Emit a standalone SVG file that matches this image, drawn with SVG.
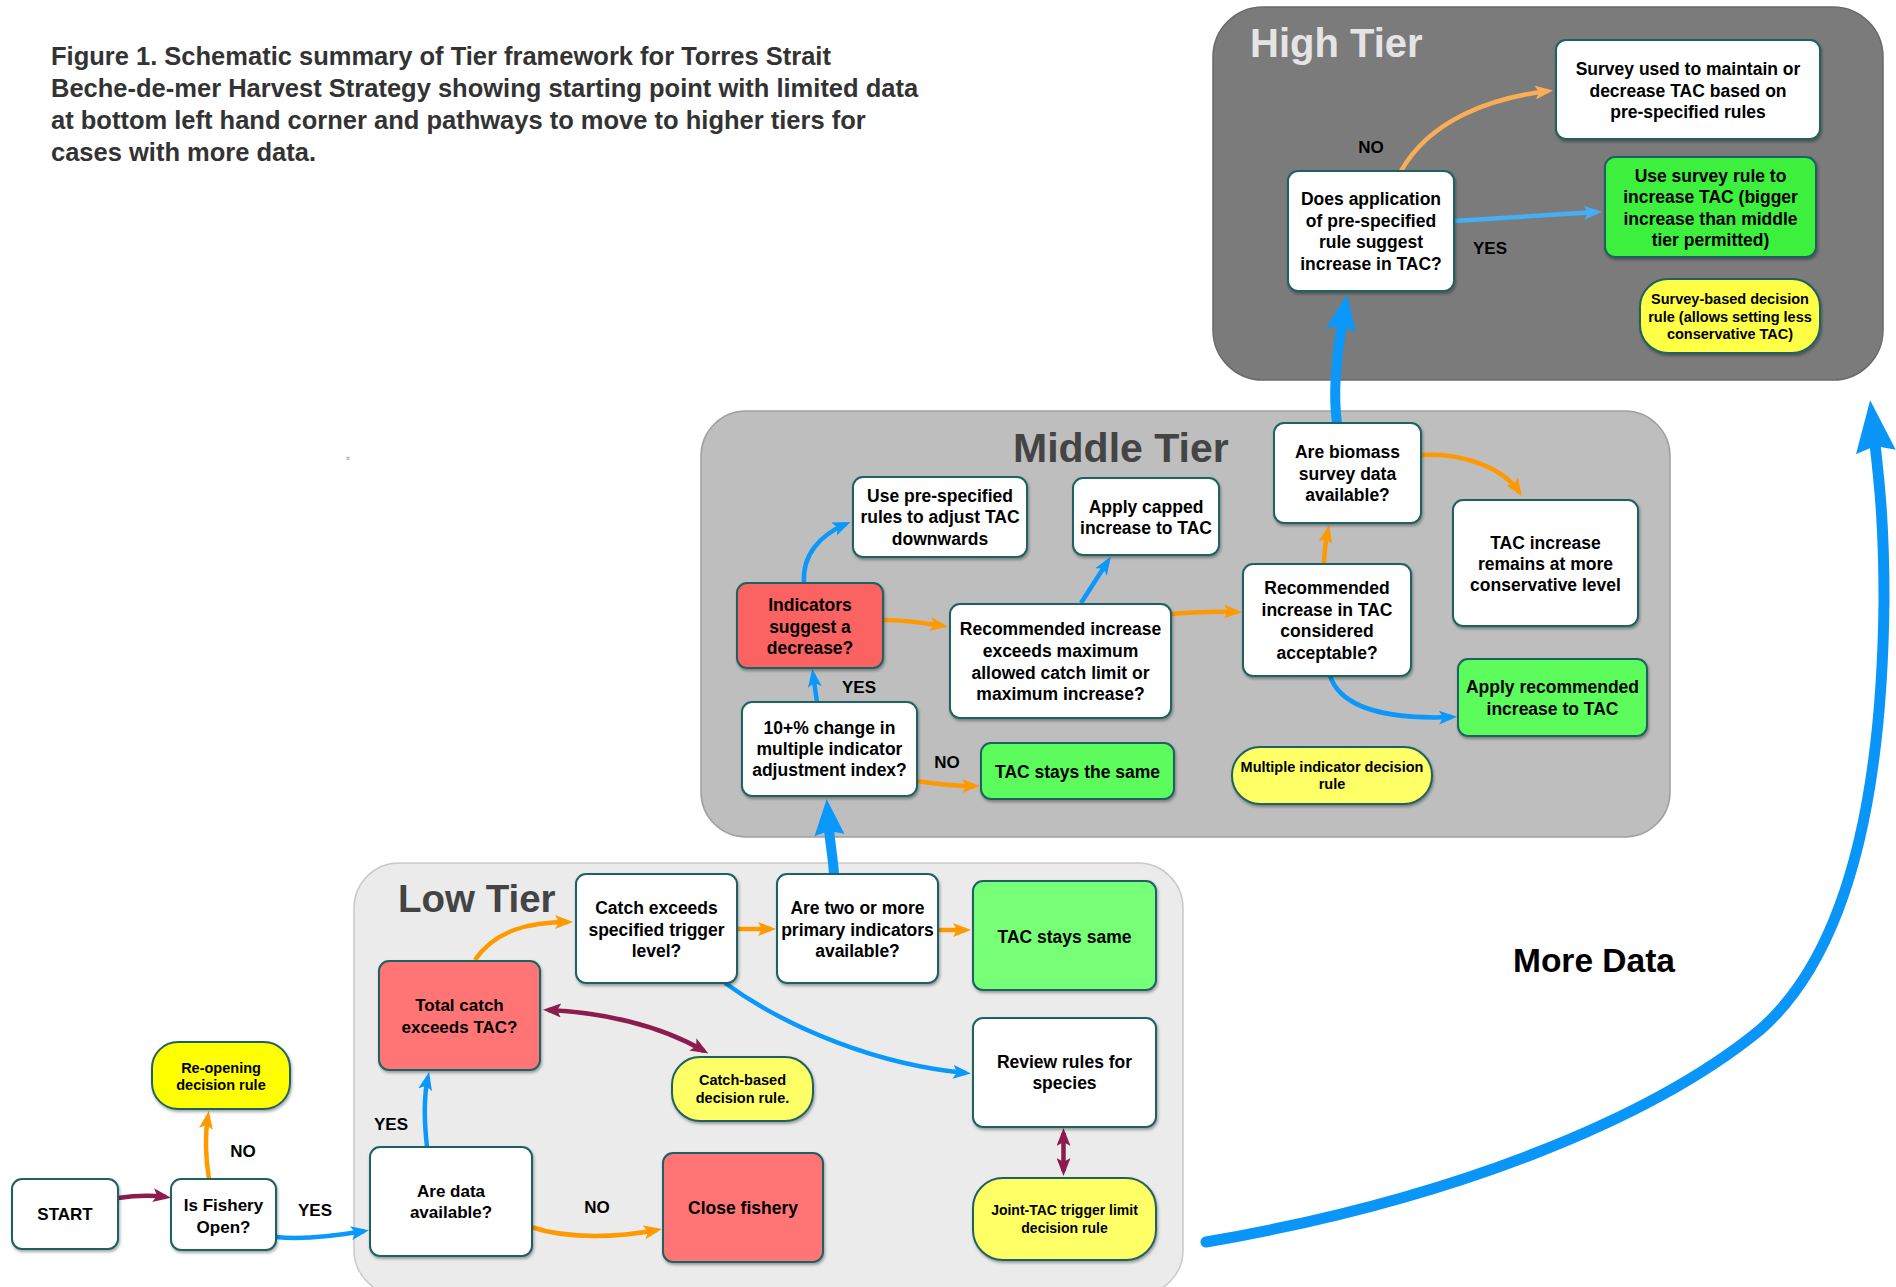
<svg xmlns="http://www.w3.org/2000/svg" width="1896" height="1287" viewBox="0 0 1896 1287">
<defs>
<filter id="sh" x="-10%" y="-10%" width="120%" height="125%">
<feDropShadow dx="1" dy="2" stdDeviation="1.5" flood-color="#000" flood-opacity="0.35"/>
</filter>
<marker id="mOr" markerUnits="userSpaceOnUse" markerWidth="18" markerHeight="14" viewBox="0 0 18 14" refX="13" refY="7" orient="auto"><path d="M0,0 L18,7 L0,14 L4,7 z" fill="#ff9900"/></marker>
<marker id="mOrL" markerUnits="userSpaceOnUse" markerWidth="18" markerHeight="14" viewBox="0 0 18 14" refX="13" refY="7" orient="auto"><path d="M0,0 L18,7 L0,14 L4,7 z" fill="#f9ad56"/></marker>
<marker id="mBl" markerUnits="userSpaceOnUse" markerWidth="18" markerHeight="14" viewBox="0 0 18 14" refX="13" refY="7" orient="auto"><path d="M0,0 L18,7 L0,14 L4,7 z" fill="#0a98fb"/></marker>
<marker id="mBlL" markerUnits="userSpaceOnUse" markerWidth="18" markerHeight="14" viewBox="0 0 18 14" refX="13" refY="7" orient="auto"><path d="M0,0 L18,7 L0,14 L4,7 z" fill="#45aef5"/></marker>
<marker id="mMa" markerUnits="userSpaceOnUse" markerWidth="18" markerHeight="14" viewBox="0 0 18 14" refX="13" refY="7" orient="auto-start-reverse"><path d="M0,0 L18,7 L0,14 L4,7 z" fill="#8c1c4e"/></marker>
<marker id="mBig" markerUnits="userSpaceOnUse" markerWidth="36" markerHeight="30" viewBox="0 0 36 30" refX="6" refY="15" orient="auto"><path d="M0,0 L36,15 L0,30 L4,15 z" fill="#0a98fb"/></marker>
<marker id="mHuge" markerUnits="userSpaceOnUse" markerWidth="52" markerHeight="40" viewBox="0 0 52 40" refX="8" refY="20" orient="auto"><path d="M0,0 L52,20 L0,40 L6,20 z" fill="#0a95f8"/></marker>
</defs>
<style>
.t{font-family:"Liberation Sans",Arial,Helvetica,sans-serif;font-weight:bold;font-size:17.5px;text-anchor:middle;fill:#000}
.ts{font-size:14.5px}
.tx{font-size:14px}
.tl{font-size:17px}
.box{stroke:#1f6262;stroke-width:2;filter:url(#sh)}
.w{fill:#ffffff}
.red{fill:#ff7575}
.red2{fill:#fb6262}
.g1{fill:#77ff77}
.g2{fill:#5cfc5c}
.g3{fill:#3ef03e}
.y1{fill:#ffff00}
.y2{fill:#ffff66}
.y3{fill:#ffff44}
.ar{fill:none;stroke-width:4.5}
.or{stroke:#ff9900;marker-end:url(#mOr)}
.orl{stroke:#f9ad56;marker-end:url(#mOrL)}
.bl{stroke:#0a98fb;marker-end:url(#mBl)}
.bll{stroke:#45aef5;marker-end:url(#mBlL)}
.ma{stroke:#8c1c4e;marker-end:url(#mMa)}
.ma2{stroke:#8c1c4e;marker-start:url(#mMa);marker-end:url(#mMa)}
.big{fill:none;stroke:#0a98fb;stroke-width:10;marker-end:url(#mBig)}
.tier{font-family:"Liberation Sans",Arial,Helvetica,sans-serif;font-weight:bold}
</style>
<rect width="1896" height="1287" fill="#ffffff"/>

<g id="title" class="tier" font-size="25.5" fill="#333333">
<text x="51" y="65">Figure 1. Schematic summary of Tier framework for Torres Strait</text>
<text x="51" y="97">Beche-de-mer Harvest Strategy showing starting point with limited data</text>
<text x="51" y="129">at bottom left hand corner and pathways to move to higher tiers for</text>
<text x="51" y="161">cases with more data.</text>
</g>
<text x="348" y="460" font-family="Liberation Sans, Arial, sans-serif" font-size="6" fill="#777" text-anchor="middle">tt</text>

<g id="panels">
<rect id="high-tier" x="1213" y="7" width="670" height="373" rx="50" fill="#7b7b7b" stroke="#6a6a6a" stroke-width="1.5"/>
<rect id="middle-tier" x="701" y="411" width="969" height="426" rx="45" fill="#bebebe" stroke="#a0a0a0" stroke-width="1.5"/>
<rect id="low-tier" x="354" y="863" width="829" height="432" rx="45" fill="#ebebeb" stroke="#c9c9c9" stroke-width="1.5"/>
<text class="tier" x="1250" y="57" font-size="40" fill="#e4e4e4">High Tier</text>
<text class="tier" x="1013" y="462" font-size="41" fill="#444444">Middle Tier</text>
<text class="tier" x="398" y="912" font-size="38.5" fill="#444444">Low Tier</text>
</g>

<g id="connectors">
<path class="ar ma" d="M118,1198 Q145,1194 166,1197"/>
<path class="ar or" d="M209,1179 C205,1155 205,1135 208,1116"/>
<path class="ar bl" d="M276,1237 C305,1240 335,1236 364,1231"/>
<path class="ar bl" d="M427,1147 C424,1120 424,1095 428,1077"/>
<path class="ar or" d="M531,1227 C570,1240 620,1237 657,1230"/>
<path class="ar or" d="M475,960 C495,930 530,922 568,922"/>
<path class="ar ma2" d="M548,1010 C600,1012 660,1025 704,1051"/>
<path class="ar or" d="M737,929 L771,929"/>
<path class="ar or" d="M938,930 L966,930"/>
<path class="ar bl" d="M725,983 C790,1030 880,1065 966,1073"/>
<path class="ar ma2" d="M1063.5,1133 L1063.5,1171"/>
<path class="big" d="M834,874 C833,858 830,842 829,829"/>

<path class="ar bl" d="M817,702 L813,674"/>
<path class="ar or" d="M917,781 C935,784 955,786 975,786"/>
<path class="ar bl" d="M804,583 C802,555 820,535 846,524"/>
<path class="ar or" d="M883,620 C905,620 925,623 943,626"/>
<path class="ar bl" d="M1081,603 L1108,561"/>
<path class="ar or" d="M1171,614 C1195,612 1215,611 1237,612"/>
<path class="ar or" d="M1324,564 C1324,550 1326,540 1328,530"/>
<path class="ar or" d="M1421,455 C1465,452 1505,470 1519,492"/>
<path class="ar bl" d="M1330,676 C1340,705 1380,720 1452,717"/>
<path class="big" d="M1337,423 C1333,395 1336,360 1342,324"/>

<path class="ar orl" d="M1401,171 C1430,120 1490,98 1548,91"/>
<path class="ar bll" d="M1454,221 L1597,212"/>

<path d="M1206,1242 C1450,1200 1650,1120 1760,1030 C1840,960 1882,820 1884,600 C1884,520 1879,480 1875,444" fill="none" stroke="#0a95f8" stroke-width="11" stroke-linecap="round" marker-end="url(#mHuge)"/>
</g>

<g id="labels" class="t tl">
<text x="243" y="1157">NO</text>
<text x="315" y="1216">YES</text>
<text x="391" y="1130">YES</text>
<text x="597" y="1213">NO</text>
<text x="859" y="693">YES</text>
<text x="947" y="768">NO</text>
<text x="1371" y="153">NO</text>
<text x="1490" y="254">YES</text>
</g>
<text id="more-data" class="tier" x="1513" y="972" font-size="33.5" fill="#000">More Data</text>

<g id="start"><rect class="box w" x="12" y="1179" width="106" height="70" rx="10"/><text class="t tl" x="65" y="1220">START</text></g>
<g id="is-open"><rect class="box w" x="171" y="1179" width="105" height="71" rx="10"/><text class="t tl"><tspan x="223.5" y="1211">Is Fishery</tspan><tspan x="223.5" y="1233">Open?</tspan></text></g>
<g id="reopen"><rect class="box y1" x="152" y="1042" width="138" height="67" rx="26"/><text class="t ts"><tspan x="221" y="1073">Re-opening</tspan><tspan x="221" y="1090">decision rule</tspan></text></g>
<g id="are-data"><rect class="box w" x="370" y="1147" width="162" height="109" rx="10"/><text class="t tl"><tspan x="451" y="1197">Are data</tspan><tspan x="451" y="1218">available?</tspan></text></g>
<g id="total-catch"><rect class="box red" x="379" y="961" width="161" height="109" rx="10"/><text class="t tl"><tspan x="459.5" y="1011">Total catch</tspan><tspan x="459.5" y="1033">exceeds TAC?</tspan></text></g>
<g id="catch-exceeds"><rect class="box w" x="576" y="874" width="161" height="109" rx="10"/><text class="t"><tspan x="656.5" y="914">Catch exceeds</tspan><tspan x="656.5" y="936">specified trigger</tspan><tspan x="656.5" y="957">level?</tspan></text></g>
<g id="are-two"><rect class="box w" x="777" y="874" width="161" height="109" rx="10"/><text class="t"><tspan x="857.5" y="914">Are two or more</tspan><tspan x="857.5" y="936">primary indicators</tspan><tspan x="857.5" y="957">available?</tspan></text></g>
<g id="tac-same-low"><rect class="box g1" x="973" y="881" width="183" height="109" rx="10"/><text class="t" x="1064.5" y="943">TAC stays same</text></g>
<g id="review"><rect class="box w" x="973" y="1018" width="183" height="109" rx="10"/><text class="t"><tspan x="1064.5" y="1068">Review rules for</tspan><tspan x="1064.5" y="1089">species</tspan></text></g>
<g id="joint-tac"><rect class="box y2" x="973" y="1178" width="183" height="82" rx="30"/><text class="t tx"><tspan x="1064.5" y="1215">Joint-TAC trigger limit</tspan><tspan x="1064.5" y="1233">decision rule</tspan></text></g>
<g id="catch-based"><rect class="box y2" x="672" y="1057" width="141" height="64" rx="28"/><text class="t ts"><tspan x="742.5" y="1085">Catch-based</tspan><tspan x="742.5" y="1103">decision rule.</tspan></text></g>
<g id="close"><rect class="box red" x="663" y="1153" width="160" height="109" rx="10"/><text class="t" x="743" y="1214">Close fishery</text></g>

<g id="use-pre"><rect class="box w" x="853" y="477" width="174" height="80" rx="10"/><text class="t"><tspan x="940" y="502">Use pre-specified</tspan><tspan x="940" y="523">rules to adjust TAC</tspan><tspan x="940" y="545">downwards</tspan></text></g>
<g id="capped"><rect class="box w" x="1073" y="478" width="146" height="77" rx="10"/><text class="t"><tspan x="1146" y="513">Apply capped</tspan><tspan x="1146" y="534">increase to TAC</tspan></text></g>
<g id="indicators"><rect class="box red2" x="737" y="583" width="146" height="85" rx="10"/><text class="t"><tspan x="810" y="611">Indicators</tspan><tspan x="810" y="633">suggest a</tspan><tspan x="810" y="654">decrease?</tspan></text></g>
<g id="rec-exceeds"><rect class="box w" x="950" y="604" width="221" height="114" rx="10"/><text class="t"><tspan x="1060.5" y="635">Recommended increase</tspan><tspan x="1060.5" y="657">exceeds maximum</tspan><tspan x="1060.5" y="679">allowed catch limit or</tspan><tspan x="1060.5" y="700">maximum increase?</tspan></text></g>
<g id="ten-pct"><rect class="box w" x="742" y="702" width="175" height="94" rx="10"/><text class="t"><tspan x="829.5" y="734">10+% change in</tspan><tspan x="829.5" y="755">multiple indicator</tspan><tspan x="829.5" y="776">adjustment index?</tspan></text></g>
<g id="tac-same-mid"><rect class="box g2" x="981" y="743" width="193" height="56" rx="10"/><text class="t" x="1077.5" y="778">TAC stays the same</text></g>
<g id="biomass"><rect class="box w" x="1274" y="423" width="147" height="100" rx="10"/><text class="t"><tspan x="1347.5" y="458">Are biomass</tspan><tspan x="1347.5" y="480">survey data</tspan><tspan x="1347.5" y="501">available?</tspan></text></g>
<g id="rec-accept"><rect class="box w" x="1243" y="564" width="168" height="112" rx="10"/><text class="t"><tspan x="1327" y="594">Recommended</tspan><tspan x="1327" y="616">increase in TAC</tspan><tspan x="1327" y="637">considered</tspan><tspan x="1327" y="659">acceptable?</tspan></text></g>
<g id="remains"><rect class="box w" x="1453" y="500" width="185" height="126" rx="10"/><text class="t"><tspan x="1545.5" y="549">TAC increase</tspan><tspan x="1545.5" y="570">remains at more</tspan><tspan x="1545.5" y="591">conservative level</tspan></text></g>
<g id="apply-rec"><rect class="box g2" x="1458" y="659" width="189" height="77" rx="10"/><text class="t"><tspan x="1552.5" y="693">Apply recommended</tspan><tspan x="1552.5" y="715">increase to TAC</tspan></text></g>
<g id="multi-ind"><rect class="box y2" x="1232" y="747" width="200" height="57" rx="28"/><text class="t ts"><tspan x="1332" y="772">Multiple indicator decision</tspan><tspan x="1332" y="789">rule</tspan></text></g>

<g id="survey-used"><rect class="box w" x="1556" y="40" width="264" height="99" rx="10"/><text class="t"><tspan x="1688" y="75">Survey used to maintain or</tspan><tspan x="1688" y="97">decrease TAC based on</tspan><tspan x="1688" y="118">pre-specified rules</tspan></text></g>
<g id="does-app"><rect class="box w" x="1288" y="171" width="166" height="120" rx="10"/><text class="t"><tspan x="1371" y="205">Does application</tspan><tspan x="1371" y="227">of pre-specified</tspan><tspan x="1371" y="248">rule suggest</tspan><tspan x="1371" y="270">increase in TAC?</tspan></text></g>
<g id="use-survey"><rect class="box g3" x="1605" y="157" width="211" height="100" rx="10"/><text class="t"><tspan x="1710.5" y="182">Use survey rule to</tspan><tspan x="1710.5" y="203">increase TAC (bigger</tspan><tspan x="1710.5" y="225">increase than middle</tspan><tspan x="1710.5" y="246">tier permitted)</tspan></text></g>
<g id="survey-based"><rect class="box y3" x="1640" y="279" width="180" height="74" rx="28"/><text class="t ts"><tspan x="1730" y="304">Survey-based decision</tspan><tspan x="1730" y="322">rule (allows setting less</tspan><tspan x="1730" y="339">conservative TAC)</tspan></text></g>
</svg>
